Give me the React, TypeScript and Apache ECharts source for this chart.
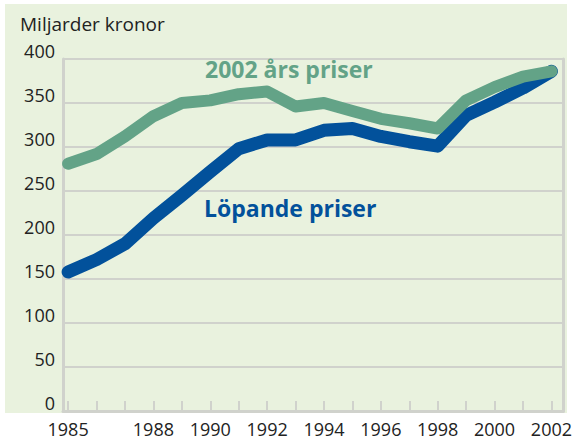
import React, { useEffect, useRef } from "react";
import * as echarts from "echarts";

const years = [1985, 1986, 1987, 1988, 1989, 1990, 1991, 1992, 1993, 1994, 1995, 1996, 1997, 1998, 1999, 2000, 2001, 2002];
const fastaPriser = [281, 292, 312, 335, 350, 353, 360, 363, 346, 350, 341, 332, 327, 321, 353, 368, 380, 386];
const lopandePriser = [158, 172, 190, 219, 245, 272, 298, 308, 308, 319, 321, 312, 306, 301, 336, 351, 367, 386];
const xLabelYears = [1985, 1988, 1990, 1992, 1994, 1996, 1998, 2000, 2002];
const yTitle = "Miljarder kronor";
const fastaName = "2002 års priser";
const lopandeName = "Löpande priser";

const GREEN = "#63a387";
const BLUE = "#02519b";
const GRID = "#d0d2cc";
const FONT = "'Open Sans', sans-serif";

export default function App() {
  const ref = useRef<HTMLDivElement>(null);
  useEffect(() => {
    if (!ref.current) return;
    const chart = echarts.init(ref.current, undefined, { renderer: "svg" });
    chart.setOption({
      animation: false,
      backgroundColor: "#ffffff",
      grid: { left: 63, right: 10, top: 59, bottom: 31 },
      graphic: [
        { type: "rect", z: -10, shape: { x: 5, y: 4, width: 562, height: 409 }, style: { fill: "#e9f2de" } },
        { type: "text", left: 20, top: 14, style: { text: yTitle, font: `19px ${FONT}`, fill: "#222" } },
        { type: "text", left: 205, top: 57, z: 10, style: { text: fastaName, font: `bold 23px ${FONT}`, fill: GREEN } },
        { type: "text", left: 204, top: 196, z: 10, style: { text: lopandeName, font: `bold 23px ${FONT}`, fill: BLUE } },
      ],
      xAxis: {
        type: "value",
        min: 1984.82,
        max: 2002.42,
        splitLine: { show: false },
        axisLine: { show: true, lineStyle: { color: GRID, width: 3 } },
        axisTick: { show: true, inside: true, length: 10, customValues: years, lineStyle: { color: GRID, width: 2 } },
        axisLabel: {
          customValues: xLabelYears,
          color: "#222",
          fontFamily: FONT,
          fontSize: 18,
          margin: 9,
          formatter: (v: number) => String(v),
        },
      },
      yAxis: [
        {
          type: "value",
          min: 0,
          max: 400,
          interval: 50,
          splitLine: { show: true, lineStyle: { color: GRID, width: 2 } },
          axisLine: { show: true, lineStyle: { color: GRID, width: 3 } },
          axisTick: { show: false },
          axisLabel: { color: "#222", fontFamily: FONT, fontSize: 18, margin: 8, verticalAlign: "bottom", lineHeight: 17 },
        },
        {
          type: "value",
          position: "right",
          min: 0,
          max: 400,
          interval: 50,
          splitLine: { show: false },
          axisLine: { show: true, lineStyle: { color: GRID, width: 3 } },
          axisTick: { show: false },
          axisLabel: { show: false },
        },
      ],
      series: [
        {
          name: lopandeName,
          type: "line",
          data: years.map((y, i) => [y, lopandePriser[i]]),
          symbol: "none",
          lineStyle: { color: BLUE, width: 13, cap: "round", join: "round" },
        },
        {
          name: fastaName,
          type: "line",
          data: years.map((y, i) => [y, fastaPriser[i]]),
          symbol: "none",
          lineStyle: { color: GREEN, width: 12, cap: "round", join: "round" },
        },
      ],
    });
    return () => chart.dispose();
  }, []);
  return <div ref={ref} style={{ width: 575, height: 442, position: "absolute", left: 0, top: 0 }} />;
}
